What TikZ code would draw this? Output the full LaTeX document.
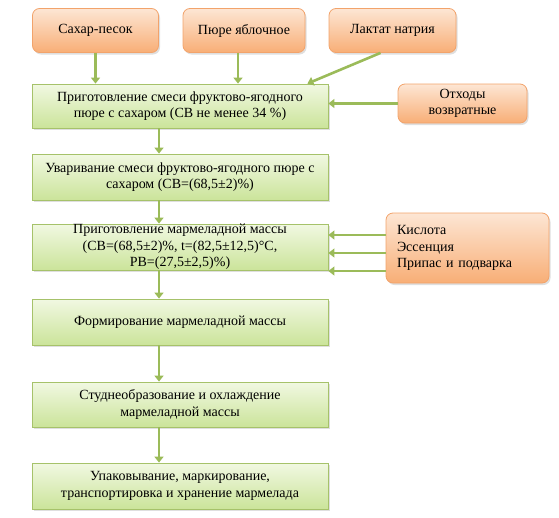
\documentclass[tikz,border=0pt]{standalone}
\usepackage{fontspec}
\setmainfont{Liberation Serif}
\usepackage{tikz}
\usetikzlibrary{arrows.meta,shadows}
\definecolor{orTop}{HTML}{FDE6D4}
\definecolor{orBot}{HTML}{F8AE76}
\definecolor{orLine}{HTML}{F2A36B}
\definecolor{grTop}{HTML}{F1F8E2}
\definecolor{grBot}{HTML}{CBE49A}
\definecolor{grLine}{HTML}{A6C26A}
\definecolor{arr}{HTML}{9BBB59}
\begin{document}
\begin{tikzpicture}[x=1pt,y=-1pt]
\tikzstyle{every node}+=[font=\fontsize{14}{16.5}\selectfont]
\tikzstyle{inbox}=[draw=orLine,line width=0.8pt,rounded corners=7pt,top color=orTop,bottom color=orBot,
  drop shadow={shadow xshift=1.5pt,shadow yshift=-2pt,opacity=0.25},align=center,inner sep=2pt]
\tikzstyle{stepbox}=[draw=grLine,line width=0.8pt,top color=grTop,bottom color=grBot,
  drop shadow={shadow xshift=1.5pt,shadow yshift=-2pt,opacity=0.25},align=center,
  minimum width=296pt,inner ysep=0pt]
\tikzstyle{flow}=[arr,line width=2.6pt,-{Triangle[width=9pt,length=6pt]}]
\useasboundingbox (0,0) rectangle (559,517);
\node [inbox,minimum width=126pt,minimum height=44pt] (sugar) at (95.5,30.5) {Сахар-песок};
\node [inbox,minimum width=122pt,minimum height=44pt] (puree) at (244,30.5) {Пюре яблочное};
\node [inbox,minimum width=127pt,minimum height=44pt] (lactate) at (392.5,30.5) {Лактат натрия};
\node [stepbox,minimum height=44pt] (mix) at (180,106) {Приготовление смеси фруктово-ягодного\\пюре с сахаром (СВ не менее 34 \%)};
\node [inbox,minimum width=129pt,minimum height=39pt,inner ysep=0pt] (waste) at (462.5,103.5) {Отходы\\возвратные};
\node [stepbox,minimum height=46pt] (boil) at (180,177) {Уваривание смеси фруктово-ягодного пюре с\\сахаром (СВ=(68,5±2)\%)};
\node [stepbox,minimum height=46pt] (mass) at (180,247) {Приготовление мармеладной массы\\(СВ=(68,5±2)\%, t=(82,5±12,5)°C,\\РВ=(27,5±2,5)\%)};
\node [inbox,minimum width=163pt,minimum height=70pt,text width=141pt,align=left,inner xsep=11pt] (additives) at (467.5,248) {Кислота\\Эссенция\\Припас и подварка};
\node [stepbox,minimum height=46pt] (form) at (180,322) {Формирование мармеладной массы};
\node [stepbox,minimum height=45pt] (gel) at (180,404.5) {Студнеобразование и охлаждение\\мармеладной массы};
\node [stepbox,minimum height=46pt] (pack) at (180,486) {Упаковывание, маркирование,\\транспортировка и хранение мармелада};
\coordinate (axis) at (159,0);
\draw [flow] (sugar.south) -- (sugar.south |- mix.north);
\draw [flow] ([xshift=-6pt]puree.south) -- ([xshift=-6pt]puree.south |- mix.north);
\draw [flow] ([xshift=-12pt]lactate.south) -- ([xshift=-21pt]mix.north east);
\draw [flow] (waste.west) -- (waste.west -| mix.east);
\draw [flow] (mix.south -| axis) -- (boil.north -| axis);
\draw [flow] (boil.south -| axis) -- (mass.north -| axis);
\draw [flow] ([yshift=13pt]additives.west) -- ([yshift=13pt]additives.west -| mass.east);
\draw [flow] ([yshift=-5pt]additives.west) -- ([yshift=-5pt]additives.west -| mass.east);
\draw [flow] ([yshift=-23pt]additives.west) -- ([yshift=-23pt]additives.west -| mass.east);
\draw [flow] (mass.south -| axis) -- (form.north -| axis);
\draw [flow] (form.south -| axis) -- (gel.north -| axis);
\draw [flow] (gel.south -| axis) -- (pack.north -| axis);
\end{tikzpicture}
\end{document}
